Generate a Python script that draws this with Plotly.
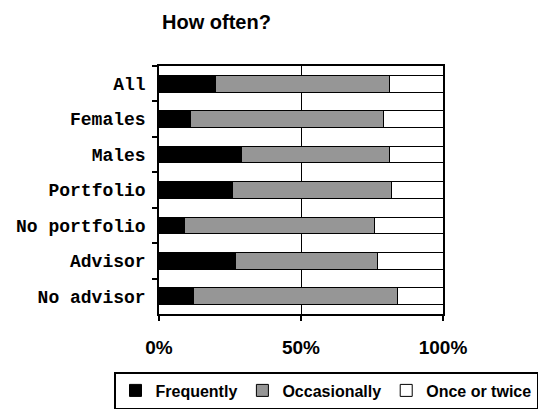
import plotly.graph_objects as go

categories = ["All", "Females", "Males", "Portfolio", "No portfolio", "Advisor", "No advisor"]
frequently = [20, 11, 29, 26, 9, 27, 12]
occasionally = [61, 68, 52, 56, 67, 50, 72]
once_or_twice = [19, 21, 19, 18, 24, 23, 16]
series_names = ["Frequently", "Occasionally", "Once or twice"]
series_colors = ["#000000", "#969696", "#ffffff"]
x_tickvals = [0, 50, 100]
x_ticktext = ["0%", "50%", "100%"]

fig = go.Figure()
for name, vals, col in zip(series_names, [frequently, occasionally, once_or_twice], series_colors):
    fig.add_trace(go.Bar(
        y=categories, x=vals, name=name, orientation="h",
        marker=dict(color=col, line=dict(color="#000000", width=1)),
    ))

fig.update_layout(
    barmode="stack",
    bargap=0.53,
    width=547, height=417,
    margin=dict(l=159, r=104, t=66, b=103, autoexpand=False),
    paper_bgcolor="white", plot_bgcolor="white",
    font=dict(family="Arial, Liberation Sans", color="black"),
    title=dict(text="How often?", x=162/547, xref="container", xanchor="left",
               y=1 - 22/417, yref="container", yanchor="middle",
               font=dict(size=20, weight="bold", family="Arial, Liberation Sans", color="black")),
    legend=dict(orientation="h", x=(114-159)/284, xanchor="left", y=(314-372)/248, yanchor="top",
                bordercolor="black", borderwidth=1.5, bgcolor="white",
                font=dict(size=16, weight="bold", family="Arial, Liberation Sans", color="black"),
                itemwidth=30, traceorder="normal", tracegroupgap=0),
    showlegend=True,
)
fig.update_xaxes(range=[0, 100], tickvals=x_tickvals, ticktext=x_ticktext,
                 showgrid=True, gridcolor="black", gridwidth=1,
                 showline=True, linecolor="black", linewidth=1.5, mirror=True,
                 ticks="outside", ticklen=5, tickcolor="black", tickwidth=1.5,
                 tickfont=dict(size=19, weight="bold", family="Arial, Liberation Sans", color="black"),
                 ticklabelstandoff=10, zeroline=False, fixedrange=True)
fig.update_yaxes(categoryorder="array", categoryarray=categories, autorange="reversed",
                 showline=True, linecolor="black", linewidth=1.5, mirror=True,
                 ticks="outside", ticklen=5, tickcolor="black", tickwidth=1.5,
                 tickson="boundaries", showgrid=False,
                 tickfont=dict(size=18, weight="bold", family="Courier New, Liberation Mono", color="black"),
                 ticklabelstandoff=8, fixedrange=True)

fig.write_html("out.html")
